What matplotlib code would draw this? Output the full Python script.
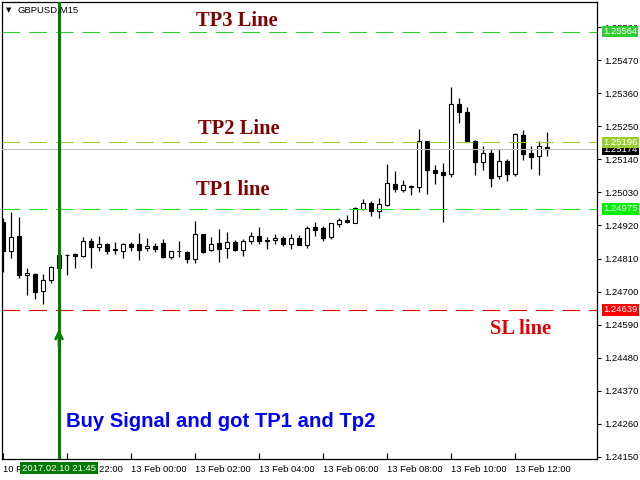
import matplotlib.pyplot as plt

# GBPUSD M15 bars, 10 Feb 2017 20:00 -> 13 Feb 2017 13:00
opens = [1.24933, 1.24836, 1.24885, 1.24755, 1.24760, 1.24703, 1.24740, 1.24780, 1.24821, 1.24825,
         1.24820, 1.24868, 1.24849, 1.24858, 1.24843, 1.24836, 1.24858, 1.24858, 1.24844, 1.24851,
         1.24862, 1.24816, 1.24835, 1.24832, 1.24808, 1.24892, 1.24837, 1.24861, 1.24844, 1.24864,
         1.24837, 1.24868, 1.24884, 1.24872, 1.24872, 1.24878, 1.24859, 1.24878, 1.24856, 1.24915,
         1.24912, 1.24883, 1.24926, 1.24939, 1.24929, 1.24976, 1.24994, 1.24967, 1.24989, 1.25057,
         1.25039, 1.25052, 1.25047, 1.25200, 1.25105, 1.25098, 1.25090, 1.25323, 1.25296, 1.25200,
         1.25130, 1.25161, 1.25084, 1.25134, 1.25092, 1.25220, 1.25160, 1.25150, 1.25181]
highs = [1.24944, 1.24966, 1.24949, 1.24780, 1.24763, 1.24758, 1.24785, 1.24825, 1.24824, 1.24828,
         1.24881, 1.24879, 1.24885, 1.24863, 1.24865, 1.24863, 1.24865, 1.24894, 1.24877, 1.24863,
         1.24875, 1.24836, 1.24868, 1.24836, 1.24935, 1.24893, 1.24881, 1.24908, 1.24897, 1.24872,
         1.24875, 1.24897, 1.24914, 1.24883, 1.24892, 1.24885, 1.24892, 1.24888, 1.24918, 1.24932,
         1.24918, 1.24929, 1.24945, 1.24954, 1.24983, 1.25007, 1.25001, 1.25010, 1.25125, 1.25101,
         1.25071, 1.25053, 1.25241, 1.25201, 1.25121, 1.25128, 1.25382, 1.25343, 1.25313, 1.25203,
         1.25184, 1.25173, 1.25173, 1.25140, 1.25228, 1.25238, 1.25184, 1.25200, 1.25230]
lows = [1.24766, 1.24811, 1.24746, 1.24689, 1.24676, 1.24659, 1.24730, 1.24777, 1.24755, 1.24780,
        1.24816, 1.24780, 1.24836, 1.24825, 1.24825, 1.24811, 1.24836, 1.24805, 1.24835, 1.24831,
        1.24811, 1.24808, 1.24816, 1.24796, 1.24794, 1.24830, 1.24836, 1.24800, 1.24813, 1.24836,
        1.24820, 1.24857, 1.24857, 1.24841, 1.24857, 1.24852, 1.24843, 1.24855, 1.24846, 1.24886,
        1.24869, 1.24876, 1.24916, 1.24929, 1.24928, 1.24972, 1.24952, 1.24946, 1.24986, 1.25032,
        1.25032, 1.25022, 1.25032, 1.25026, 1.25059, 1.24933, 1.25080, 1.25260, 1.25198, 1.25089,
        1.25106, 1.25049, 1.25074, 1.25069, 1.25086, 1.25139, 1.25109, 1.25089, 1.25152]
closes = [1.24836, 1.24881, 1.24755, 1.24761, 1.24700, 1.24738, 1.24782, 1.24821, 1.24822, 1.24820,
          1.24868, 1.24849, 1.24857, 1.24836, 1.24837, 1.24857, 1.24848, 1.24838, 1.24851, 1.24843,
          1.24814, 1.24835, 1.24836, 1.24808, 1.24892, 1.24832, 1.24857, 1.24842, 1.24864, 1.24837,
          1.24869, 1.24886, 1.24867, 1.24869, 1.24879, 1.24859, 1.24878, 1.24856, 1.24912, 1.24906,
          1.24879, 1.24928, 1.24938, 1.24933, 1.24977, 1.24994, 1.24967, 1.24990, 1.25061, 1.25042,
          1.25055, 1.25049, 1.25200, 1.25104, 1.25096, 1.25089, 1.25323, 1.25296, 1.25199, 1.25132,
          1.25160, 1.25079, 1.25134, 1.25092, 1.25224, 1.25159, 1.25149, 1.25183, 1.25174]

time_ticks = [0, 8, 16, 24, 32, 40, 48, 56, 64]
time_labels = ["10 Feb 2017", "10 Feb 22:00", "13 Feb 00:00", "13 Feb 02:00", "13 Feb 04:00",
               "13 Feb 06:00", "13 Feb 08:00", "13 Feb 10:00", "13 Feb 12:00"]
price_ticks = [1.24150, 1.24260, 1.24370, 1.24480, 1.24590, 1.24700, 1.24810,
               1.24920, 1.25030, 1.25140, 1.25250, 1.25360, 1.25470, 1.25580]

tp3, tp2, tp1, sl = 1.25564, 1.25196, 1.24975, 1.24639
bid = 1.25174
signal_bar = 7
signal_time = "2017.02.10 21:45"

plt.rcParams['font.family'] = ['Liberation Sans', 'DejaVu Sans']

fig = plt.figure(figsize=(6.4, 4.8), dpi=100)
ax = fig.add_axes([2 / 640, 21 / 480, 595 / 640, 457 / 480])

x = list(range(len(opens)))
bottoms = [min(o, c) for o, c in zip(opens, closes)]
heights = [abs(c - o) for o, c in zip(opens, closes)]
colors = ['white' if c >= o else 'black' for o, c in zip(opens, closes)]

ax.vlines(x, lows, highs, color='black', lw=0.9, zorder=2)
ax.bar(x, heights, bottom=bottoms, width=0.62, color=colors,
       edgecolor='black', linewidth=0.8, zorder=3)

# levels
ax.axhline(tp3, color='#32CD32', lw=0.8, dashes=(16, 8), zorder=4)
ax.axhline(tp2, color='#9ACD32', lw=0.8, dashes=(16, 8), zorder=4)
ax.axhline(bid, color='#C0C0C0', lw=0.8, zorder=4)
ax.axhline(tp1, color='#22E022', lw=0.8, dashes=(16, 8), zorder=4)
ax.axhline(sl, color='#E00000', lw=0.8, dashes=(16, 8), zorder=4)
ax.axvline(signal_bar, color='#008000', lw=2.2, zorder=5)
ax.annotate('', xy=(signal_bar, 1.24575), xytext=(signal_bar, 1.24520),
            arrowprops=dict(arrowstyle='->', color='#008000', lw=2, mutation_scale=12,
                            shrinkA=0, shrinkB=0), zorder=6)

ax.set_xlim(-0.125, 74.25)
ax.set_ylim(1.241433, 1.256633)

ax.yaxis.tick_right()
ax.set_yticks(price_ticks)
ax.set_yticklabels([f"{p:.5f}" for p in price_ticks])
ax.tick_params(axis='y', direction='out', length=3, width=0.8, pad=2, labelsize=6.8)
ax.set_xticks(time_ticks)
ax.set_xticklabels(time_labels, ha='left')
ax.tick_params(axis='x', direction='in', length=4, width=0.8, pad=4, labelsize=6.8)
for s in ax.spines.values():
    s.set_color('black')
    s.set_linewidth(0.9)

# price tags on the right scale (bid tag sits underneath the TP2 tag)
tags = [(bid, 'black', 9), (tp3, '#32CD32', 10), (tp2, '#9ACD32', 10),
        (tp1, '#00F000', 10), (sl, '#FF0000', 10)]
for val, col, z in tags:
    ax.annotate(f"{val:.5f}", xy=(1.0101, val), xycoords=('axes fraction', 'data'),
                ha='left', va='center', fontsize=6.8, color='white', annotation_clip=False,
                bbox=dict(boxstyle='square,pad=0.12', fc=col, ec='none'), zorder=z)

ax.annotate(signal_time, xy=(signal_bar, 0), xycoords=('data', 'axes fraction'),
            xytext=(0, -6.5), textcoords='offset points', ha='center', va='center',
            fontsize=6.8, color='white', annotation_clip=False,
            bbox=dict(boxstyle='square,pad=0.2', fc='#007A00', ec='none'), zorder=10)

# chart texts
serif = dict(family='Liberation Serif', weight='bold', fontsize=14.8, va='baseline', ha='left')
ax.text(24.1, 1.25584, "TP3 Line", color='#800000', **serif)
ax.text(24.4, 1.25224, "TP2 Line", color='#800000', **serif)
ax.text(24.1, 1.25021, "TP1 line", color='#800000', **serif)
ax.text(60.9, 1.24559, "SL line", color='#E00000', **serif)
ax.text(7.9, 1.24250, "Buy Signal and got TP1 and Tp2", color='#0000FF',
        family='Liberation Sans', weight='bold', fontsize=14.6, va='baseline', ha='left')

fig.text(6 / 640, 1 - 10 / 480, "\u25BC", fontsize=5, va='center', ha='left', family='DejaVu Sans')
fig.text(18 / 640, 1 - 10 / 480, "GBPUSD,M15", fontsize=6.8, va='center', ha='left')

fig.savefig('out.png', dpi=100)
